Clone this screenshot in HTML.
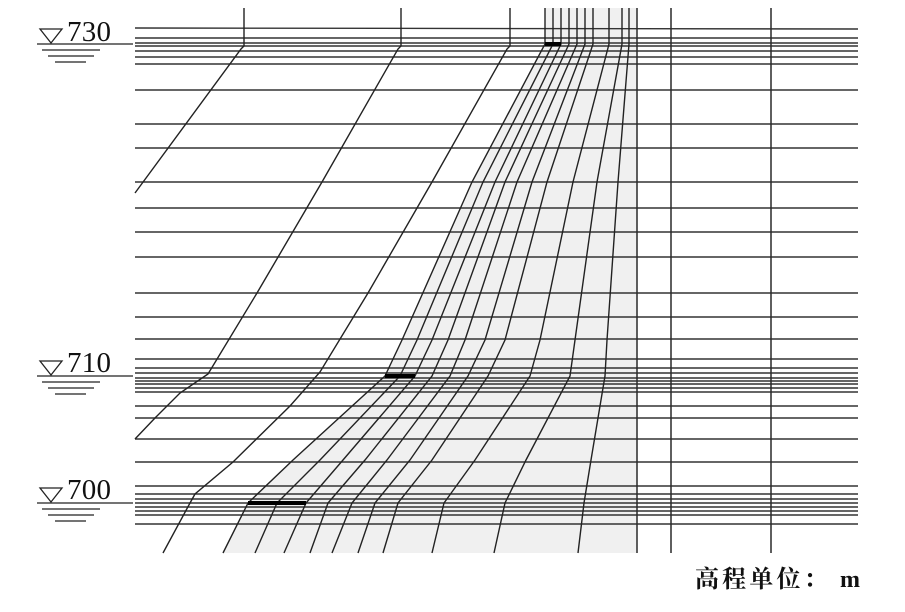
<!DOCTYPE html>
<html><head><meta charset="utf-8"><style>
html,body{margin:0;padding:0;background:#fff;}
svg{display:block;}
</style></head><body>
<svg width="905" height="612" viewBox="0 0 905 612" xmlns="http://www.w3.org/2000/svg">
<polygon fill="#f0f0f0" points="545,8 545,44 472,182 402,340 385,376 293,460 248,503 223,553 637,553 637,8"/>
<g stroke="#333" stroke-width="1.4" fill="none">
<line x1="135" y1="28" x2="858" y2="29"/>
<line x1="135" y1="38" x2="858" y2="38"/>
<line x1="135" y1="43" x2="858" y2="43"/>
<line x1="135" y1="46" x2="858" y2="46"/>
<line x1="135" y1="51" x2="858" y2="51"/>
<line x1="135" y1="57" x2="858" y2="57"/>
<line x1="135" y1="64" x2="858" y2="64"/>
<line x1="135" y1="90" x2="858" y2="90"/>
<line x1="135" y1="124" x2="858" y2="124"/>
<line x1="135" y1="148" x2="858" y2="148"/>
<line x1="135" y1="182" x2="858" y2="182"/>
<line x1="135" y1="208" x2="858" y2="208"/>
<line x1="135" y1="232" x2="858" y2="232"/>
<line x1="135" y1="257" x2="858" y2="257"/>
<line x1="135" y1="293" x2="858" y2="293"/>
<line x1="135" y1="317" x2="858" y2="317"/>
<line x1="135" y1="339" x2="858" y2="339"/>
<line x1="135" y1="359" x2="858" y2="359"/>
<line x1="135" y1="368" x2="858" y2="368"/>
<line x1="135" y1="373" x2="858" y2="373"/>
<line x1="135" y1="378" x2="858" y2="378"/>
<line x1="135" y1="381" x2="858" y2="381"/>
<line x1="135" y1="384" x2="858" y2="384"/>
<line x1="135" y1="388" x2="858" y2="388"/>
<line x1="135" y1="392" x2="858" y2="392"/>
<line x1="135" y1="406" x2="858" y2="406"/>
<line x1="135" y1="418" x2="858" y2="418"/>
<line x1="135" y1="439" x2="858" y2="439"/>
<line x1="135" y1="462" x2="858" y2="462"/>
<line x1="135" y1="486" x2="858" y2="486"/>
<line x1="135" y1="494" x2="858" y2="494"/>
<line x1="135" y1="499" x2="858" y2="499"/>
<line x1="135" y1="503" x2="858" y2="503"/>
<line x1="135" y1="507" x2="858" y2="507"/>
<line x1="135" y1="511" x2="858" y2="511"/>
<line x1="135" y1="515" x2="858" y2="515"/>
<line x1="135" y1="524" x2="858" y2="524"/>
</g>
<g stroke="#2a2a2a" stroke-width="1.5" fill="none">
<line x1="637" y1="8" x2="637" y2="553"/>
<line x1="671" y1="8" x2="671" y2="553"/>
<line x1="771" y1="8" x2="771" y2="553"/>
</g>
<g stroke="#222" stroke-width="1.4" fill="none">
<polyline points="244,8 244,46 241,49 135,193"/>
<polyline points="401,8 401,46 398,49 322,182 257,293 208,374 180,393 155,418 135,439"/>
<polyline points="510,8 510,46 507,49 432,182 368,293 320,372 290,406 233,462 195,494 190,503 163,553"/>
</g>
<g stroke="#222" stroke-width="1.4" fill="none">
<polyline points="545,8 545,44 472,182 402,340 385,376 293,460 248,503 223,553"/>
<polyline points="553,8 553,44 483,182 417,340 400,376 320,460 277,503 255,553"/>
<polyline points="561,8 561,44 495,182 432,340 415,376 343,460 306,503 284,553"/>
<polyline points="569,8 569,44 505,182 448,340 432,376 365,460 328,503 310,553"/>
<polyline points="577,8 577,44 517,182 465,340 450,376 387,460 352,503 332,553"/>
<polyline points="585,8 585,44 532,182 485,340 468,376 410,460 375,503 358,553"/>
<polyline points="593,8 593,44 547,182 505,340 488,376 432,460 398,503 383,553"/>
<polyline points="609,8 609,44 573,182 540,340 530,376 475,460 444,503 432,553"/>
<polyline points="622,8 622,44 597,182 575,340 570,376 526,460 505,503 494,553"/>
<polyline points="629,8 629,44 618,182 607,340 605,376 591,460 584,503 578,553"/>
</g>
<g stroke="#000" stroke-width="4">
<line x1="545" y1="44" x2="561" y2="44"/>
<line x1="385" y1="376" x2="415" y2="376"/>
<line x1="248" y1="503" x2="306" y2="503"/>
</g>
<g stroke="#222" stroke-width="1.3" fill="none">
<polygon points="40,29 62,29 51,43"/>
<line x1="37" y1="44" x2="133" y2="44"/>
<line x1="42" y1="50" x2="100" y2="50"/>
<line x1="48" y1="56" x2="94" y2="56"/>
<line x1="55" y1="62" x2="86" y2="62"/>
<polygon points="40,361 62,361 51,375"/>
<line x1="37" y1="376" x2="133" y2="376"/>
<line x1="42" y1="382" x2="100" y2="382"/>
<line x1="48" y1="388" x2="94" y2="388"/>
<line x1="55" y1="394" x2="86" y2="394"/>
<polygon points="40,488 62,488 51,502"/>
<line x1="37" y1="503" x2="133" y2="503"/>
<line x1="42" y1="509" x2="100" y2="509"/>
<line x1="48" y1="515" x2="94" y2="515"/>
<line x1="55" y1="521" x2="86" y2="521"/>
</g>
<g font-family="Liberation Serif, serif" font-size="29" fill="#111">
<text x="67" y="41" textLength="44">730</text>
<text x="67" y="372" textLength="44">710</text>
<text x="67" y="499" textLength="44">700</text>
</g>
<text x="695" y="587" font-family="'Liberation Serif','Noto Serif CJK SC',serif" font-size="24" font-weight="bold" fill="#111" textLength="165" lengthAdjust="spacing">高程单位： m</text>
</svg>
</body></html>
